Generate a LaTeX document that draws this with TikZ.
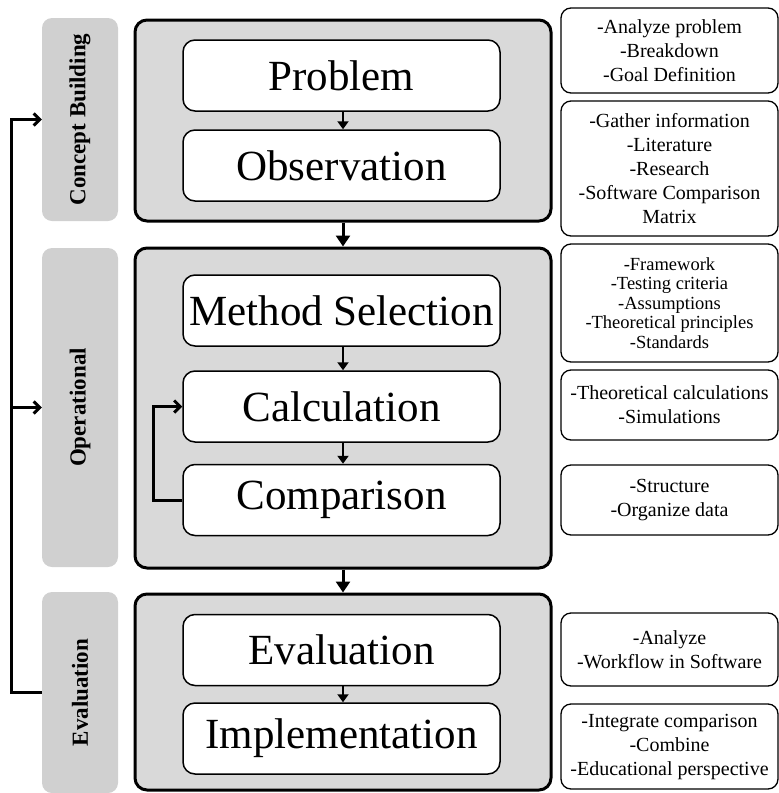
\documentclass[tikz,border=0pt]{standalone}
\usepackage{fontspec}
\setmainfont{Liberation Serif}
\usetikzlibrary{arrows.meta}
\definecolor{mainfill}{HTML}{D9D9D9}
\definecolor{labfill}{HTML}{D0D0D0}
\begin{document}
\begin{tikzpicture}[x=1pt,y=-1pt,
  stage/.style={draw, line width=3pt, fill=mainfill, rounded corners=12pt, inner sep=0pt, minimum width=416pt},
  labbox/.style={fill=labfill, rounded corners=10pt, inner sep=0pt, minimum width=76pt},
  labtext/.style={rotate=90, inner sep=0pt, font=\bfseries\fontsize{23}{27}\selectfont},
  stepbox/.style={draw, fill=white, line width=1.5pt, rounded corners=12pt, inner sep=0pt,
    minimum width=317pt, minimum height=71pt, font=\fontsize{43}{50}\selectfont},
  note/.style={draw, fill=white, line width=1.3pt, rounded corners=10pt, inner sep=0pt,
    minimum width=217pt, align=center, font=\fontsize{20}{24}\selectfont},
  smallnote/.style={note, font=\fontsize{18.5}{19.5}\selectfont},
  dnbig/.style={line width=3pt, -{Triangle[length=11pt,width=14pt]}},
  dnsmall/.style={line width=2.5pt, -{Triangle[length=8pt,width=11pt]}},
  fb/.style={line width=3pt, -{Straight Barb[length=6pt,width=12pt,line width=3pt]}}
]
\useasboundingbox (0,0) rectangle (779,793);

% stage boxes
\node[stage, minimum height=201pt] (s1) at (343,120.5) {};
\node[stage, minimum height=320pt] (s2) at (343,408) {};
\node[stage, minimum height=196pt] (s3) at (343,692) {};

% side labels
\node[labbox, minimum height=203pt] (cbl) at (80,119.5) {};
\node[labtext] (cbt) at (cbl.center) {Concept Building};
\node[labbox, minimum height=319pt] (opl) at (80,407.5) {};
\node[labtext] (opt) at (opl.center) {Operational};
\node[labbox, minimum height=201pt] (evl) at (80,692.5) {};
\node[labtext] (evt) at (evl.center) {Evaluation};

% step boxes
\node[stepbox] (prob) at (341.5,75.5) {Problem};
\node[stepbox] (obs) at (341.5,165.5) {Observation};
\node[stepbox] (meth) at (341.5,310.5) {Method Selection};
\node[stepbox] (calc) at (341.5,406.5) {Calculation};
\node[stepbox] (comp) at (341.5,500) {Comparison};
\node[stepbox] (eval) at (341.5,650) {Evaluation};
\node[stepbox] (impl) at (341.5,738.5) {Implementation};

% notes
\node[note, minimum height=85pt] (n1) at (669.5,50.5) {-Analyze problem\\-Breakdown\\-Goal Definition};
\node[note, minimum height=135pt] (n2) at (669.5,168.5) {-Gather information\\-Literature\\-Research\\-Software Comparison\\Matrix};
\node[smallnote, minimum height=118pt] (n3) at (669.5,303) {-Framework\\-Testing criteria\\-Assumptions\\-Theoretical principles\\-Standards};
\node[note, minimum height=70pt] (n4) at (669.5,405) {-Theoretical calculations\\-Simulations};
\node[note, minimum height=70pt] (n5) at (669.5,500) {-Structure\\-Organize data};
\node[note, minimum height=73pt] (n6) at (669.5,649.5) {-Analyze\\-Workflow in Software};
\node[note, minimum height=85pt] (n7) at (669.5,746.5) {-Integrate comparison\\-Combine\\-Educational perspective};

% arrows
\draw[dnsmall] (prob.south -| 343,0) -- (obs.north -| 343,0);
\draw[dnsmall] (meth.south -| 343,0) -- (calc.north -| 343,0);
\draw[dnsmall] (calc.south -| 343,0) -- (comp.north -| 343,0);
\draw[dnsmall] (eval.south -| 343,0) -- (impl.north -| 343,0);
\draw[dnbig] (s1.south) -- (s2.north);
\draw[dnbig] (s2.south) -- (s3.north);

% loop
\draw[fb] (comp.west) -- ++(-29,0) |- (calc.west);

% feedback
\coordinate (fbtop) at ([xshift=-30pt]cbl.west);
\coordinate (fbmid) at ([xshift=-30pt]opl.west);
\draw[fb] (evl.west) -| (fbtop) -- (cbl.west);
\draw[fb] (fbmid) -- (opl.west);
\end{tikzpicture}
\end{document}
